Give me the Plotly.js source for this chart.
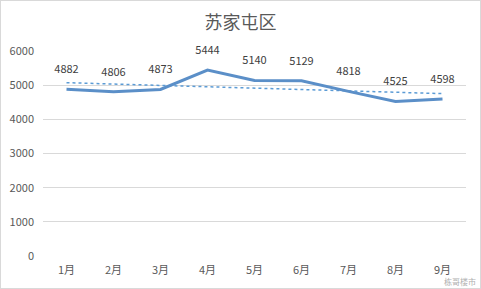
<!DOCTYPE html>
<html><head><meta charset="utf-8">
<script src="https://cdn.plot.ly/plotly-3.0.1.min.js"></script>
<style>html,body{margin:0;padding:0;background:#fff;}#c{width:481px;height:289px;box-sizing:border-box;border:1px solid #d9d9d9;}</style>
</head><body><div id="c"></div>
<script>
const months = ["1月","2月","3月","4月","5月","6月","7月","8月","9月"];
const prices = [4882,4806,4873,5444,5140,5129,4818,4525,4598];
const yTicks = [0,1000,2000,3000,4000,5000,6000];

// linear trendline (least squares) from the data
const n = prices.length;
const xs = prices.map((_, i) => i);
const mx = xs.reduce((a,b)=>a+b,0)/n, my = prices.reduce((a,b)=>a+b,0)/n;
let sxy=0, sxx=0;
xs.forEach((x,i)=>{sxy+=(x-mx)*(prices[i]-my); sxx+=(x-mx)*(x-mx);});
const slope = sxy/sxx, icpt = my - slope*mx;
const trend = xs.map(x => icpt + slope*x);

const font = '"Noto Sans CJK SC", "Noto Sans", sans-serif';
Plotly.newPlot('c', [
  {x: months, y: trend, type:'scatter', mode:'lines', line:{color:'#5B9BD5', width:1.5, dash:'dot'}, hoverinfo:'skip', showlegend:false},
  {x: months, y: prices, type:'scatter', mode:'lines', line:{color:'#5B8FC8', width:3}, showlegend:false},
  {x: months, y: prices, type:'scatter', mode:'markers+text', text: prices.map(String), textposition:'top center',
   marker:{size:20, color:'rgba(0,0,0,0)'}, cliponaxis:false,
   textfont:{size:11, color:'#404040', family:font}, showlegend:false}
], {
  width: 479, height: 287,
  margin: {l:42, r:14, t:50, b:32},
  paper_bgcolor:'#fff', plot_bgcolor:'#fff',
  title: {text:'苏家屯区', font:{size:18, color:'#595959', family:font}, x:0.5, xanchor:'center', y:0.925, yanchor:'middle'},
  xaxis: {type:'category', range:[-0.5, 8.5], showgrid:false, zeroline:false, showline:false, ticks:'',
          ticklabelstandoff:6, tickfont:{size:11, color:'#595959', family:font}},
  yaxis: {range:[0,6000], tickvals: yTicks, ticktext: yTicks.map(String), gridcolor:'#d9d9d9', zeroline:false, showline:false,
          ticks:'', ticklabelstandoff:8, tickfont:{size:11, color:'#595959', family:font}},
  annotations: [{text:'栋哥楼市', x:1, xref:'paper', y:0, yref:'paper', xanchor:'right', yanchor:'top', yshift:-18, xshift:12,
                 showarrow:false, font:{size:8, color:'#8c8c8c', family:font}, opacity:0.7}]
}, {displayModeBar:false, staticPlot:true});
</script></body></html>
